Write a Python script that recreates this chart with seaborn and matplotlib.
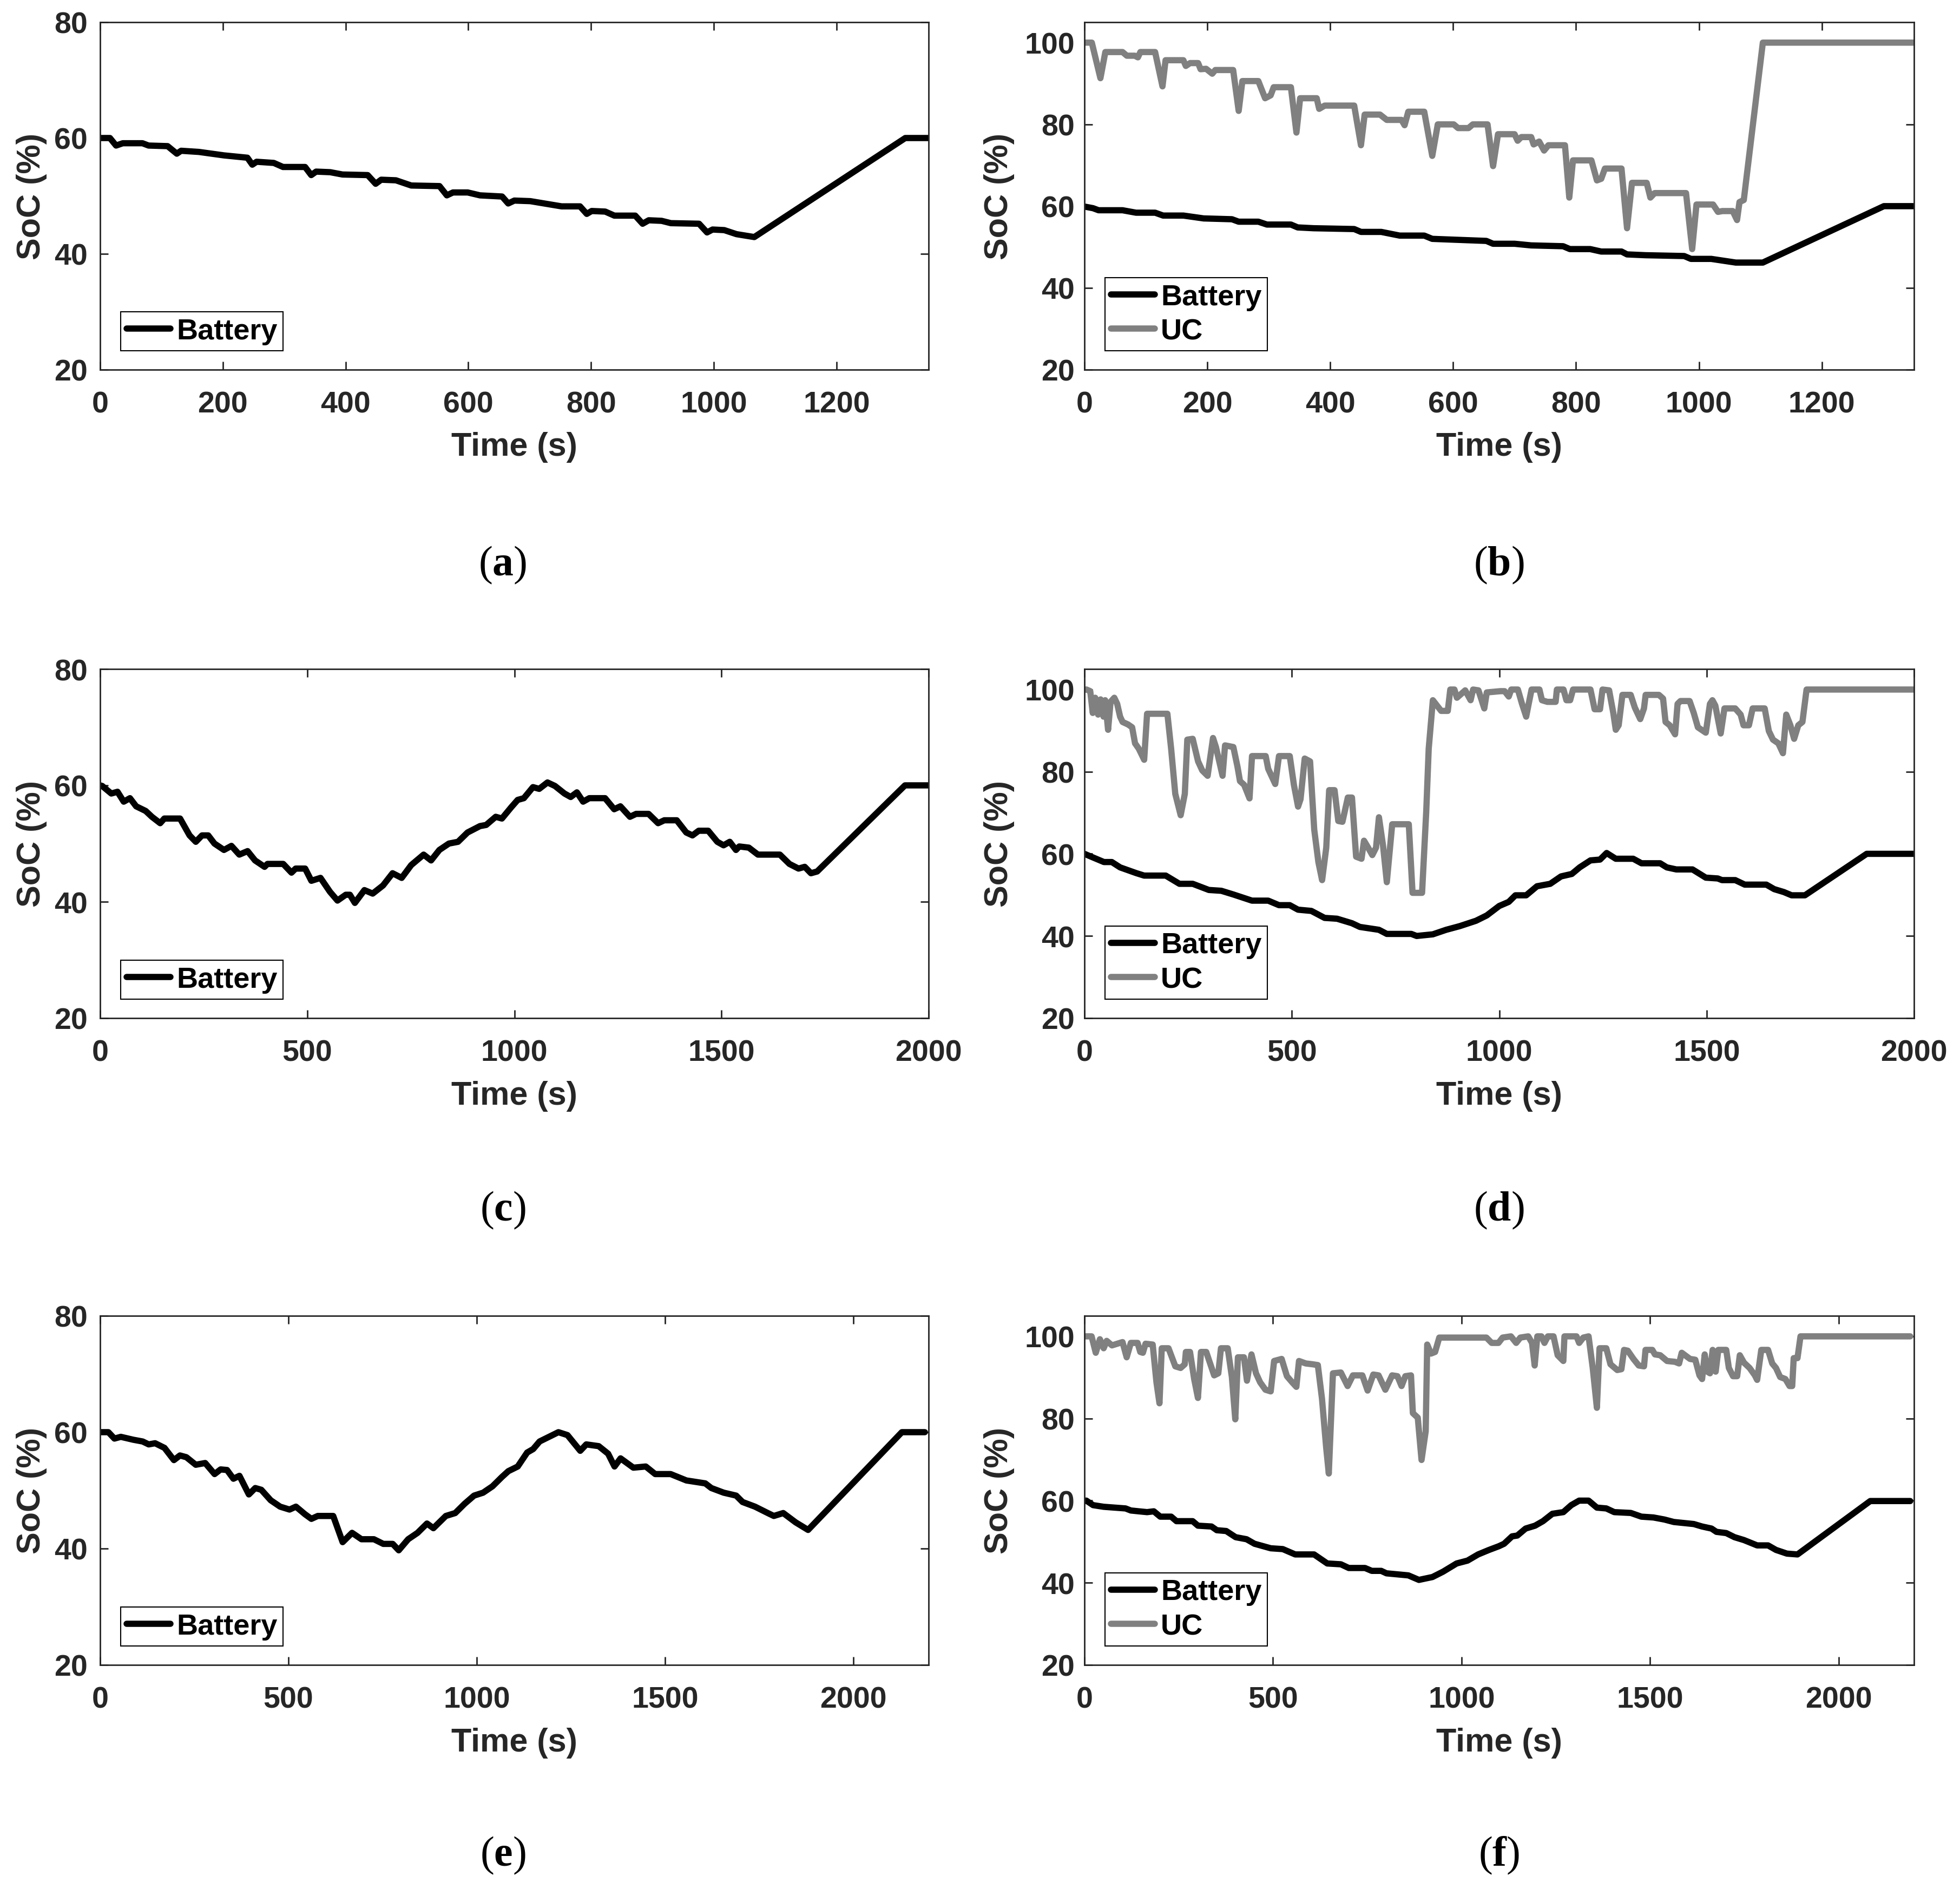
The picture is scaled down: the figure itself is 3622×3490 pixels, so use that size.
import matplotlib
matplotlib.use("Agg")
import matplotlib.pyplot as plt
import pandas as pd
import seaborn as sns

# ---------------- data (time s, SoC %) ----------------
a_battery = [(0, 60.0), (16, 60.0), (26, 58.7), (37, 59.1), (69, 59.1), (79, 58.7), (110, 58.6), (125, 57.3),
             (132, 57.8), (161, 57.6), (202, 57.0), (240, 56.6), (248, 55.4), (255, 55.9), (283, 55.7),
             (298, 55.0), (334, 55.0), (344, 53.6), (352, 54.2), (375, 54.1), (395, 53.7), (436, 53.6),
             (449, 52.1), (458, 52.8), (482, 52.7), (507, 51.8), (553, 51.7), (565, 50.1), (575, 50.6),
             (599, 50.6), (619, 50.1), (655, 49.9), (665, 48.7), (675, 49.2), (701, 49.1), (752, 48.2),
             (782, 48.2), (793, 46.9), (801, 47.4), (823, 47.3), (838, 46.6), (872, 46.6), (884, 45.2),
             (894, 45.8), (915, 45.7), (930, 45.3), (976, 45.2), (989, 43.7), (998, 44.2), (1017, 44.1),
             (1037, 43.4), (1066, 42.9), (1312, 60.0), (1351, 60.0)]

b_battery = [(0, 59.9), (14, 59.5), (23, 59.0), (62, 59.0), (84, 58.4), (115, 58.4), (128, 57.7), (161, 57.7),
             (194, 57.0), (240, 56.8), (251, 56.2), (283, 56.2), (297, 55.5), (336, 55.5), (347, 54.8),
             (373, 54.6), (439, 54.4), (450, 53.7), (483, 53.7), (513, 52.8), (553, 52.8), (566, 52.0),
             (601, 51.8), (654, 51.5), (665, 50.8), (700, 50.8), (727, 50.4), (779, 50.2), (790, 49.5),
             (823, 49.5), (841, 48.9), (874, 48.9), (883, 48.2), (913, 48.0), (976, 47.8), (987, 47.1),
             (1020, 47.1), (1060, 46.2), (1104, 46.2), (1301, 60.0), (1351, 60.0)]

b_uc = [(0, 100), (12, 100), (26, 91.3), (34, 97.7), (62, 97.7), (69, 96.8), (82, 96.8), (87, 96.4), (91, 97.7),
        (115, 97.7), (127, 89.3), (132, 95.7), (161, 95.7), (165, 94.3), (172, 95.0), (185, 95.0), (189, 93.5),
        (198, 93.6), (208, 92.4), (213, 93.3), (242, 93.3), (251, 83.3), (257, 90.6), (283, 90.6), (294, 86.4),
        (303, 87.1), (308, 89.1), (336, 89.1), (345, 78.0), (351, 86.4), (378, 86.4), (382, 83.8), (391, 84.6),
        (439, 84.6), (450, 74.9), (456, 82.4), (481, 82.4), (492, 81.1), (516, 81.1), (521, 79.8), (527, 83.1),
        (553, 83.1), (566, 72.3), (575, 80.0), (601, 80.0), (608, 79.1), (625, 79.1), (632, 80.0), (656, 80.0),
        (665, 69.8), (673, 77.6), (700, 77.6), (705, 76.0), (711, 76.9), (727, 76.9), (731, 75.1), (740, 75.8),
        (748, 73.6), (755, 74.9), (782, 74.9), (789, 62.1), (795, 71.2), (825, 71.2), (834, 66.3), (841, 66.7),
        (847, 69.2), (874, 69.2), (883, 54.6), (891, 65.7), (915, 65.7), (921, 62.1), (928, 63.2), (979, 63.2),
        (989, 49.5), (996, 60.4), (1023, 60.4), (1031, 58.6), (1038, 58.8), (1055, 58.8), (1062, 56.6),
        (1066, 61.0), (1073, 61.5), (1104, 100), (1351, 100)]

c_battery = [(0, 60.0), (5, 59.9), (27, 58.6), (42, 58.9), (57, 57.2), (72, 57.8), (87, 56.4), (110, 55.6),
             (125, 54.6), (145, 53.5), (155, 54.3), (193, 54.3), (216, 51.4), (231, 50.3), (246, 51.4),
             (261, 51.4), (276, 50.0), (299, 48.9), (317, 49.6), (336, 48.1), (356, 48.7), (374, 47.1),
             (397, 46.0), (404, 46.5), (442, 46.5), (462, 45.0), (472, 45.7), (495, 45.7), (510, 43.6),
             (532, 44.1), (555, 41.7), (573, 40.2), (593, 41.2), (603, 41.2), (615, 39.8), (638, 42.0),
             (658, 41.4), (683, 42.8), (706, 44.9), (728, 44.1), (751, 46.3), (781, 48.1), (799, 47.1),
             (819, 48.9), (842, 50.0), (864, 50.3), (887, 51.9), (917, 53.0), (932, 53.2), (955, 54.6),
             (970, 54.3), (992, 56.2), (1008, 57.5), (1023, 57.8), (1045, 59.7), (1060, 59.4), (1080, 60.5),
             (1098, 59.9), (1121, 58.6), (1136, 58.0), (1151, 58.8), (1166, 57.2), (1181, 57.8), (1219, 57.8),
             (1241, 55.9), (1256, 56.4), (1279, 54.6), (1294, 55.1), (1324, 55.1), (1347, 53.5), (1362, 54.0),
             (1392, 54.0), (1415, 51.9), (1430, 51.4), (1445, 52.2), (1468, 52.2), (1490, 50.3), (1505, 49.7),
             (1520, 50.3), (1535, 48.9), (1543, 49.5), (1566, 49.3), (1588, 48.1), (1641, 48.1), (1664, 46.5),
             (1686, 45.7), (1701, 46.0), (1716, 44.9), (1731, 45.2), (1943, 60.0), (2000, 60.0)]

d_battery = [(0, 60.0), (21, 59.1), (47, 58.0), (66, 58.0), (86, 56.7), (125, 55.3), (144, 54.7), (196, 54.7),
             (229, 52.7), (261, 52.7), (300, 51.2), (330, 51.0), (359, 50.1), (404, 48.6), (443, 48.6),
             (469, 47.5), (495, 47.5), (515, 46.4), (547, 46.1), (579, 44.4), (609, 44.2), (645, 43.1),
             (664, 42.2), (710, 41.5), (729, 40.5), (788, 40.5), (801, 40.0), (840, 40.4), (872, 41.5),
             (905, 42.4), (944, 43.7), (970, 45.0), (1000, 47.3), (1023, 48.3), (1039, 49.9), (1065, 49.9),
             (1091, 52.1), (1123, 52.7), (1149, 54.5), (1175, 55.1), (1194, 56.7), (1220, 58.4), (1243, 58.6),
             (1259, 60.2), (1281, 58.8), (1323, 58.8), (1343, 57.7), (1388, 57.7), (1404, 56.7), (1427, 56.2),
             (1466, 56.2), (1498, 54.2), (1527, 54.0), (1537, 53.6), (1569, 53.6), (1592, 52.5), (1644, 52.5),
             (1663, 51.4), (1686, 50.7), (1705, 49.9), (1737, 49.9), (1886, 60.0), (2000, 60.0)]

d_uc = [(0, 100), (5, 100), (14, 99.6), (20, 94.3), (26, 98.0), (33, 93.9), (39, 97.6), (46, 93.4), (50, 97.4),
        (57, 90.2), (63, 97.0), (72, 98.0), (79, 96.5), (86, 93.4), (92, 92.1), (105, 91.5), (115, 90.8),
        (122, 86.9), (131, 85.6), (144, 82.9), (151, 94.1), (200, 94.1), (209, 85.6), (219, 74.6), (232, 69.4),
        (242, 74.6), (248, 87.8), (261, 88.0), (274, 82.5), (284, 80.3), (297, 79.0), (310, 88.2), (317, 86.0),
        (333, 79.0), (339, 86.4), (359, 86.0), (369, 81.2), (375, 77.7), (385, 76.8), (398, 73.5), (404, 83.8),
        (437, 83.8), (443, 80.7), (460, 77.0), (469, 83.8), (495, 83.8), (505, 76.8), (515, 71.5), (521, 73.3),
        (531, 83.2), (544, 82.5), (554, 65.9), (564, 58.0), (573, 53.6), (583, 61.5), (590, 75.5), (603, 75.5),
        (612, 68.0), (622, 67.8), (635, 73.7), (645, 73.7), (655, 59.3), (668, 58.8), (674, 63.2), (684, 61.5),
        (694, 59.7), (703, 61.5), (710, 68.9), (720, 61.9), (729, 53.1), (742, 67.2), (782, 67.2), (791, 50.5),
        (814, 50.5), (824, 70.2), (830, 85.6), (840, 97.4), (850, 96.1), (860, 94.8), (876, 94.8), (882, 100),
        (892, 100), (898, 98.0), (918, 99.8), (931, 97.4), (937, 100), (950, 99.8), (964, 95.4), (970, 99.3),
        (1003, 99.6), (1013, 99.6), (1023, 98.3), (1029, 100), (1045, 100), (1055, 96.5), (1065, 93.4),
        (1071, 96.5), (1078, 100), (1097, 100), (1103, 97.4), (1116, 97.0), (1136, 97.0), (1139, 100),
        (1155, 100), (1162, 97.4), (1171, 97.4), (1178, 100), (1220, 100), (1230, 95.2), (1243, 95.2),
        (1249, 100), (1265, 99.8), (1275, 94.3), (1281, 90.2), (1288, 91.3), (1297, 98.7), (1317, 98.7),
        (1327, 95.6), (1340, 92.8), (1349, 95.4), (1353, 98.7), (1385, 98.7), (1395, 97.8), (1401, 92.1),
        (1411, 91.3), (1424, 89.1), (1430, 96.5), (1437, 97.2), (1459, 97.2), (1469, 94.3), (1479, 90.8),
        (1498, 89.5), (1508, 96.5), (1514, 97.4), (1521, 96.1), (1534, 89.3), (1543, 95.4), (1569, 95.4),
        (1582, 93.9), (1589, 91.3), (1602, 91.3), (1611, 95.4), (1640, 95.4), (1650, 89.9), (1660, 87.8),
        (1673, 86.9), (1684, 84.5), (1692, 93.9), (1702, 91.3), (1711, 88.0), (1721, 91.3), (1731, 92.1),
        (1741, 100), (2000, 100)]

e_battery = [(0, 60.0), (22, 60.0), (38, 58.9), (55, 59.2), (88, 58.7), (113, 58.4), (129, 57.9), (146, 58.1),
             (171, 57.3), (196, 55.2), (212, 56.0), (229, 55.7), (254, 54.4), (279, 54.7), (304, 52.8),
             (320, 53.6), (337, 53.5), (354, 52.0), (370, 52.5), (395, 49.3), (412, 50.4), (428, 50.1),
             (453, 48.3), (478, 47.2), (503, 46.7), (520, 47.2), (544, 45.9), (561, 45.1), (578, 45.6),
             (619, 45.6), (644, 41.1), (669, 42.7), (694, 41.6), (727, 41.6), (752, 40.8), (777, 40.8),
             (793, 39.7), (818, 41.6), (843, 42.7), (868, 44.3), (885, 43.5), (918, 45.6), (943, 46.1),
             (968, 47.7), (993, 49.1), (1017, 49.6), (1042, 50.7), (1067, 52.3), (1084, 53.3), (1109, 54.1),
             (1134, 56.5), (1150, 57.1), (1167, 58.4), (1192, 59.2), (1217, 60.0), (1241, 59.5), (1275, 56.8),
             (1291, 57.9), (1324, 57.6), (1349, 56.3), (1366, 54.1), (1382, 55.5), (1416, 53.9), (1449, 54.1),
             (1474, 52.8), (1515, 52.8), (1557, 51.7), (1607, 51.2), (1623, 50.4), (1656, 49.6), (1689, 49.1),
             (1706, 48.0), (1739, 47.2), (1773, 46.1), (1789, 45.6), (1814, 46.1), (1847, 44.5), (1880, 43.2),
             (2129, 60.0), (2190, 60.0)]

f_battery = [(0, 60.0), (5, 60.0), (23, 58.9), (51, 58.5), (109, 58.1), (123, 57.6), (144, 57.4), (166, 57.2),
             (184, 57.4), (201, 56.1), (230, 56.1), (244, 55.0), (287, 55.0), (301, 53.9), (337, 53.7),
             (351, 52.8), (376, 52.6), (401, 51.1), (430, 50.6), (451, 49.5), (494, 48.4), (526, 48.2),
             (559, 46.9), (609, 46.9), (644, 44.7), (680, 44.5), (701, 43.6), (744, 43.6), (762, 42.9),
             (787, 42.9), (801, 42.3), (859, 41.8), (887, 40.7), (923, 41.4), (951, 42.7), (987, 44.7),
             (1016, 45.4), (1044, 46.9), (1073, 48.0), (1099, 48.9), (1113, 49.5), (1134, 51.3), (1148, 51.5),
             (1170, 53.2), (1195, 53.9), (1216, 55.0), (1241, 56.8), (1270, 57.2), (1291, 58.9), (1312, 60.0),
             (1337, 60.0), (1359, 58.3), (1384, 58.1), (1405, 57.2), (1449, 57.0), (1477, 56.1), (1509, 55.9),
             (1538, 55.4), (1563, 54.8), (1616, 54.3), (1638, 53.7), (1663, 53.2), (1676, 52.4), (1702, 52.1),
             (1724, 51.1), (1749, 50.4), (1784, 49.1), (1813, 49.1), (1834, 48.0), (1863, 47.1), (1891, 46.9),
             (2084, 59.9), (2190, 59.9)]

f_uc = [(0, 100), (19, 100), (30, 96.0), (41, 99.3), (51, 97.1), (59, 98.9), (73, 97.8), (101, 98.6), (112, 94.9),
        (123, 98.4), (141, 98.4), (148, 96.2), (155, 96.0), (162, 98.2), (181, 98.0), (191, 88.8), (199, 83.7),
        (205, 97.1), (223, 97.1), (241, 92.7), (255, 92.3), (266, 93.2), (269, 96.2), (280, 96.2), (291, 89.6),
        (301, 85.0), (309, 96.2), (323, 96.2), (344, 90.5), (355, 91.0), (362, 97.1), (380, 97.1), (391, 90.1),
        (400, 79.8), (407, 94.9), (423, 94.9), (431, 89.2), (443, 95.6), (455, 91.0), (466, 88.8), (480, 87.0),
        (494, 86.6), (503, 94.0), (523, 94.5), (537, 90.3), (551, 88.8), (562, 87.7), (569, 94.0), (587, 93.4),
        (605, 93.2), (619, 93.0), (630, 84.8), (641, 73.0), (648, 66.6), (659, 91.0), (680, 91.2), (698, 87.9),
        (712, 90.5), (737, 90.5), (751, 86.8), (766, 90.7), (780, 90.5), (798, 87.0), (816, 90.5), (830, 90.3),
        (841, 87.9), (851, 90.3), (866, 90.5), (871, 81.3), (884, 80.2), (894, 69.9), (905, 76.9), (909, 98.0),
        (919, 95.8), (930, 96.2), (941, 99.7), (1066, 99.7), (1080, 98.4), (1098, 98.4), (1109, 99.7),
        (1131, 100), (1145, 98.4), (1156, 99.7), (1177, 100), (1187, 98.4), (1194, 92.9), (1201, 100),
        (1212, 100), (1220, 98.4), (1229, 100), (1244, 100), (1255, 95.4), (1270, 94.0), (1273, 100),
        (1305, 100), (1312, 98.4), (1323, 99.7), (1337, 100), (1348, 92.3), (1359, 82.6), (1366, 97.1),
        (1384, 97.1), (1395, 93.2), (1413, 91.8), (1424, 92.0), (1431, 96.7), (1441, 96.5), (1456, 94.5),
        (1470, 92.9), (1484, 92.7), (1488, 96.7), (1506, 96.7), (1513, 95.6), (1527, 95.4), (1545, 94.0),
        (1566, 93.8), (1577, 93.4), (1584, 96.0), (1606, 94.5), (1620, 94.3), (1631, 90.5), (1638, 89.6),
        (1645, 95.6), (1652, 91.4), (1659, 91.0), (1666, 96.7), (1674, 91.4), (1681, 96.7), (1702, 96.7),
        (1709, 92.3), (1720, 90.3), (1731, 90.3), (1738, 95.4), (1749, 93.6), (1764, 92.3), (1778, 90.5),
        (1784, 89.4), (1795, 96.7), (1813, 96.7), (1824, 93.4), (1834, 92.3), (1845, 90.1), (1859, 89.6),
        (1870, 87.9), (1877, 87.9), (1881, 94.7), (1891, 94.7), (1899, 100), (2190, 100)]

panel_letters = ["a", "b", "c", "d", "e", "f"]
x_limits = [1350, 1350, 2000, 2000, 2200, 2200]
x_tick_steps = [200, 200, 500, 500, 500, 500]
x_tick_max = [1200, 1200, 2000, 2000, 2000, 2000]
series_names = ["Battery", "UC"]

# ---------------- style ----------------
sns.set_theme(style="white")
plt.rcParams["font.family"] = ["Liberation Sans", "DejaVu Sans"]
plt.rcParams["font.weight"] = "bold"
plt.rcParams["axes.labelweight"] = "bold"
plt.rcParams["mathtext.fontset"] = "custom"
plt.rcParams["mathtext.bf"] = "Liberation Serif:bold"
plt.rcParams["mathtext.rm"] = "Liberation Serif"

W, H = 3622, 3491
fig = plt.figure(figsize=(W / 100, H / 100), dpi=100)
fig.patch.set_facecolor("white")

col_x = [(185, 1716), (2004, 3537)]
row_y = [(42, 684), (1237, 1882), (2432, 3077)]
label_xy = [(929, 1044), (2770, 1044), (929, 2236), (2770, 2236), (929, 3428), (2770, 3428)]

TXT = "#262626"
BAT_C = "#000000"
UC_C = "#808080"
LW = 8.3

panel_data = [
    [a_battery, None], [b_battery, b_uc],
    [c_battery, None], [d_battery, d_uc],
    [e_battery, None], [f_battery, f_uc],
]

for i in range(6):
    r, c = divmod(i, 2)
    x0, x1 = col_x[c]
    y0, y1 = row_y[r]
    ax = fig.add_axes([x0 / W, 1 - y1 / H, (x1 - x0) / W, (y1 - y0) / H])
    bat, uc = panel_data[i]
    dfb = pd.DataFrame(bat, columns=["Time", "SoC"])
    sns.lineplot(data=dfb, x="Time", y="SoC", ax=ax, color=BAT_C, lw=LW, estimator=None,
                 sort=False, label=series_names[0], solid_joinstyle="round")
    if uc is not None:
        dfu = pd.DataFrame(uc, columns=["Time", "SoC"])
        sns.lineplot(data=dfu, x="Time", y="SoC", ax=ax, color=UC_C, lw=LW, estimator=None,
                     sort=False, label=series_names[1], solid_joinstyle="round")
        ax.set_ylim(20, 105)
        ax.set_yticks([20, 40, 60, 80, 100])
    else:
        ax.set_ylim(20, 80)
        ax.set_yticks([20, 40, 60, 80])
    ax.set_xlim(0, x_limits[i])
    ax.set_xticks(list(range(0, x_tick_max[i] + 1, x_tick_steps[i])))

    for sp in ax.spines.values():
        sp.set_visible(True)
        sp.set_color(TXT)
        sp.set_linewidth(2.0)
    ax.tick_params(axis="both", direction="in", length=10.8, width=2.0, color=TXT,
                   labelcolor=TXT, labelsize=40, top=True, right=True, bottom=True, left=True)
    ax.tick_params(axis="x", pad=28)
    ax.tick_params(axis="y", pad=16.5 if c == 0 else 13)
    for lab in ax.get_xticklabels() + ax.get_yticklabels():
        lab.set_fontweight("bold")

    ax.set_xlabel("Time (s)", fontsize=44, fontweight="bold", color=TXT)
    ax.set_ylabel("SoC (%)", fontsize=44, fontweight="bold", color=TXT)
    ax.xaxis.set_label_coords(0.5, -0.178)
    ax.yaxis.set_label_coords(-0.064 if c == 0 else -0.084, 0.5)

    leg = ax.legend(loc="lower left", bbox_to_anchor=(0.0248, 0.0545), borderaxespad=0,
                    handlelength=1.5, handletextpad=0.2, borderpad=0.2,
                    labelspacing=0.25, frameon=True, fancybox=False, framealpha=1,
                    edgecolor="black", prop={"weight": "bold", "size": 39})
    leg.get_frame().set_linewidth(1.5)
    for t in leg.get_texts():
        t.set_color("black")

    lx, ly = label_xy[i]
    fig.text(lx / W, 1 - ly / H, "(" + r"$\mathbf{" + panel_letters[i] + "}$" + ")",
             ha="center", va="center", fontsize=56, fontweight="normal",
             family=["Liberation Serif", "DejaVu Serif"], color="black")

fig.savefig("out.png", dpi=100, facecolor="white")
